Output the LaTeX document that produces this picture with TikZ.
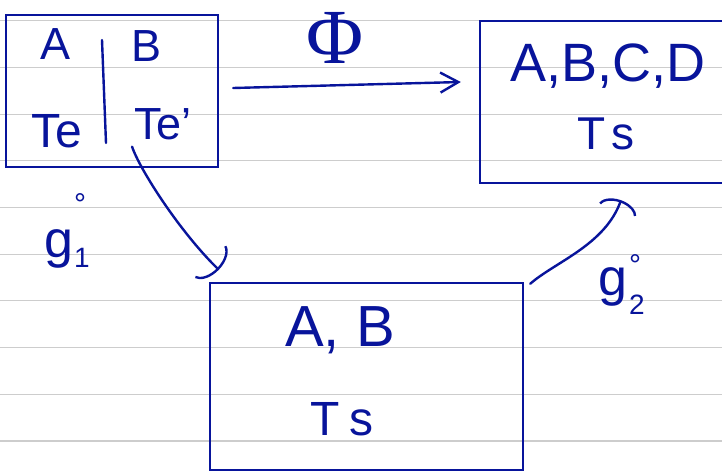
\documentclass[tikz,border=0pt]{standalone}
\usepackage{fontspec}
\setmainfont{Liberation Sans}
\newfontfamily\phifont{Liberation Serif}
\usetikzlibrary{arrows.meta}
\definecolor{ink}{RGB}{8,20,155}
\definecolor{paperrule}{RGB}{205,205,205}
\begin{document}
\begin{tikzpicture}[x=1pt,y=-1pt,
  inkbox/.style={draw=ink,line width=2.4pt,inner sep=0pt},
  hand/.style={text=ink,inner sep=0pt,anchor=base,font=\fontsize{#1}{#1}\selectfont},
  conn/.style={draw=ink,line width=2.4pt,line cap=round},
  paper/.style={draw=paperrule,line width=1.1pt}]
\fill[white] (0,0) rectangle (722,473);
\useasboundingbox (0,0) rectangle (722,473);
% ruled paper
\foreach \i in {0,...,9}{
  \draw[paper] (0,20.7+46.7*\i) -- (722,20.7+46.7*\i);
}
% boxes
\node[inkbox, minimum width=212pt, minimum height=152pt] (box1) at (112,91) {};
\node[inkbox, minimum width=280pt, minimum height=162pt] (box2) at (620,102) {};
\node[inkbox, minimum width=313pt, minimum height=187pt] (box3) at (366.5,376.5) {};
% box 1 contents
\node[hand=45] (a1) at (56,60) {A};
\node[hand=45] (b1) at (147,62) {B};
\node[hand=48] (te1) at (57,148) {Te};
\node[hand=45] (te2) at (163,140) {Te'};
\draw[conn] (102,40) -- (106,143);
% box 2 contents
\node[hand=54] (abcd) at (608,82) {A,B,C,D};
\node[hand=46] (ts2) at (606,150) {T\hspace{0.14em}s};
% box 3 contents
\node[hand=58] (ab3) at (340,346) {A, B};
\node[hand=48] (ts3) at (342,435) {T\hspace{0.2em}s};
% Phi arrow
\node[text=ink,inner sep=0pt,anchor=base,font=\fontsize{78}{78}\selectfont\phifont] (phi) at (335,64) {Φ};
\draw[conn,-{Straight Barb[length=18pt,width=20pt]}] ([shift={(14,-3)}]box1.east) -- ([shift={(-18,-20)}]box2.west);
% curved arrow g1
\coordinate (c1e) at ([shift={(10,-12)}]box3.north west);
\draw[conn,-{Arc Barb[arc=160,length=14pt,width=46pt]}] ([shift={(-2,6)}]te2.south west) .. controls (140,170) and (180,232) .. (c1e);
\node[text=ink,inner sep=0pt,anchor=base west,font=\fontsize{52}{52}\selectfont] (g1) at (44,257)
  {g\kern1pt\rlap{\raisebox{-0.21em}{\fontsize{28}{28}\selectfont 1}}\raisebox{0.82em}{\fontsize{30}{30}\selectfont °}};
% curved arrow g2
\coordinate (c2e) at ([shift={(1,16)}]box2.south);
\draw[conn,-{Arc Barb[arc=160,length=12pt,width=40pt]}] ([shift={(6,2)}]box3.north east) .. controls (555,262) and (605,245) .. (c2e);
\node[text=ink,inner sep=0pt,anchor=base west,font=\fontsize{52}{52}\selectfont] (g2) at (598,295)
  {g\kern2pt\rlap{\raisebox{-0.38em}{\fontsize{28}{28}\selectfont 2}}\raisebox{0.38em}{\fontsize{30}{30}\selectfont °}};
\end{tikzpicture}
\end{document}
